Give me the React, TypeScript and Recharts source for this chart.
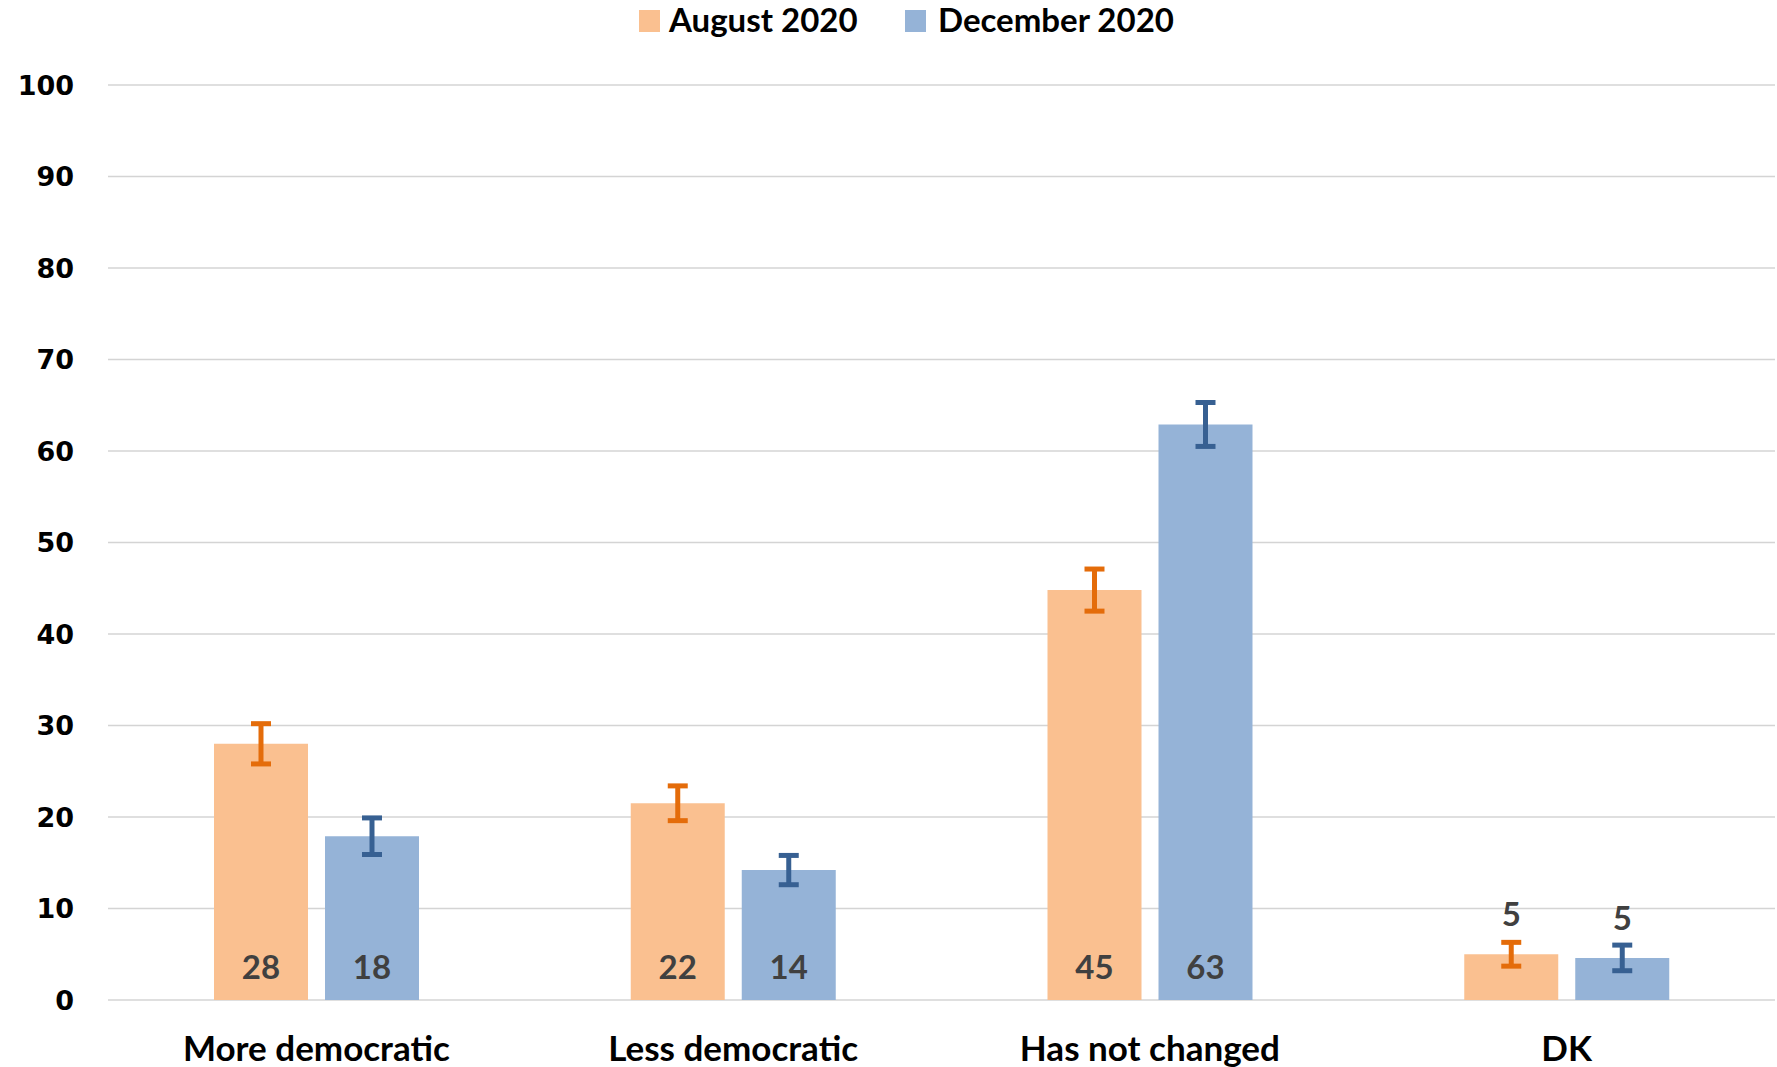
import React from "react";
import { BarChart, Bar, XAxis, YAxis, CartesianGrid, ErrorBar, LabelList } from "recharts";

const categories = ["More democratic", "Less democratic", "Has not changed", "DK"];
const augustValues = [28, 21.5, 44.8, 5];
const decemberValues = [17.9, 14.2, 62.9, 4.6];
const augustErrors = [2.2, 1.9, 2.3, 1.3];
const decemberErrors = [2.0, 1.6, 2.4, 1.4];
const augustLabels = ["28", "22", "45", "5"];
const decemberLabels = ["18", "14", "63", "5"];
const seriesNames = ["August 2020", "December 2020"];
const yTicks = [0, 10, 20, 30, 40, 50, 60, 70, 80, 90, 100];

const AUG_FILL = "#FAC090";
const DEC_FILL = "#95B3D7";
const AUG_ERR = "#E46C0A";
const DEC_ERR = "#376092";
const LABEL_FONT = "Lato, 'Open Sans', sans-serif";

const data = categories.map((c, i) => ({
  category: c,
  aug: augustValues[i],
  dec: decemberValues[i],
  augErr: augustErrors[i],
  decErr: decemberErrors[i],
}));

const makeLabel = (labels: string[]) => (props: any) => {
  const { x, y, width, height, index } = props;
  const cx = Number(x) + Number(width) / 2;
  const bottom = Number(y) + Number(height);
  const small = Number(height) < 80;
  const ty = small ? Number(y) - 28 : bottom - 21;
  return (
    <text
      x={cx}
      y={ty}
      textAnchor="middle"
      fill="#404040"
      fontFamily={LABEL_FONT}
      fontWeight={700}
      fontSize={33}
    >
      {labels[index]}
    </text>
  );
};

export default function App() {
  return (
    <div style={{ position: "absolute", left: 0, top: 0, width: 1777, height: 1067, background: "#fff" }}>
      <div
        style={{
          position: "absolute",
          top: 0,
          left: 0,
          width: 1777,
          height: 40,
          fontFamily: LABEL_FONT,
          fontWeight: 700,
          fontSize: 33,
          color: "#000",
        }}
      >
        <div style={{ position: "absolute", left: 639, top: 10, width: 21, height: 22, background: AUG_FILL }} />
        <div style={{ position: "absolute", left: 669, top: -1, lineHeight: "40px", whiteSpace: "nowrap" }}>{seriesNames[0]}</div>
        <div style={{ position: "absolute", left: 905, top: 10, width: 21, height: 22, background: DEC_FILL }} />
        <div style={{ position: "absolute", left: 938, top: -1, lineHeight: "40px", whiteSpace: "nowrap" }}>{seriesNames[1]}</div>
      </div>
      <BarChart
        width={1777}
        height={1067}
        data={data}
        margin={{ top: 85, right: 2, left: 0, bottom: 7 }}
        barGap={17}
        barSize={94}
      >
        <CartesianGrid vertical={false} stroke="#D4D4D4" strokeWidth={1.5} />
        <XAxis
          dataKey="category"
          axisLine={false}
          tickLine={false}
          tickSize={0}
          tickMargin={36}
          height={60}
          interval={0}
          tick={{ fill: "#000", fontFamily: LABEL_FONT, fontWeight: 700, fontSize: 35 }}
        />
        <YAxis
          domain={[0, 100]}
          ticks={yTicks}
          width={108}
          axisLine={false}
          tickLine={false}
          tickSize={0}
          tickMargin={34}
          interval={0}
          tick={{ fill: "#000", fontFamily: "'DejaVu Sans', Verdana, sans-serif", fontWeight: 700, fontSize: 27 }}
        />
        <Bar dataKey="aug" name={seriesNames[0]} fill={AUG_FILL} isAnimationActive={false}>
          <ErrorBar dataKey="augErr" direction="y" width={10} strokeWidth={5} stroke={AUG_ERR} />
          <LabelList dataKey="aug" content={makeLabel(augustLabels)} />
        </Bar>
        <Bar dataKey="dec" name={seriesNames[1]} fill={DEC_FILL} isAnimationActive={false}>
          <ErrorBar dataKey="decErr" direction="y" width={10} strokeWidth={5} stroke={DEC_ERR} />
          <LabelList dataKey="dec" content={makeLabel(decemberLabels)} />
        </Bar>
      </BarChart>
    </div>
  );
}
